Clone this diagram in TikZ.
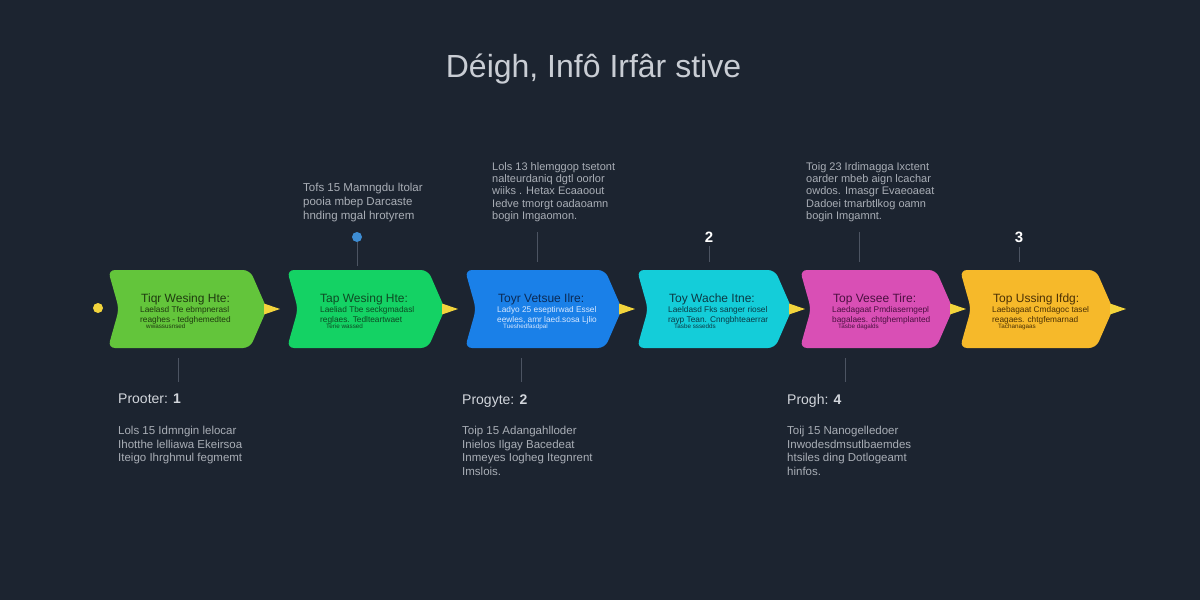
\documentclass[tikz,border=0pt]{standalone}
\usepackage{fontspec}
\setmainfont{Liberation Sans}
\definecolor{bg}{HTML}{1C2430}
\definecolor{titlec}{HTML}{C9CDD4}
\definecolor{smallc}{HTML}{A9AEB6}
\definecolor{labc}{HTML}{D2D6DC}
\definecolor{connc}{HTML}{4C5462}
\definecolor{triy}{HTML}{F2D43C}
\definecolor{cA}{HTML}{63C53B}
\definecolor{cB}{HTML}{14D264}
\definecolor{cC}{HTML}{1A80E8}
\definecolor{cD}{HTML}{14CDD9}
\definecolor{cE}{HTML}{D94FB5}
\definecolor{cF}{HTML}{F6B92A}
\definecolor{tA}{HTML}{1F3A10}
\definecolor{tB}{HTML}{0E4A24}
\definecolor{tC}{HTML}{0B2A55}
\definecolor{bC}{HTML}{D8E8FF}
\definecolor{tD}{HTML}{0B3A45}
\definecolor{tE}{HTML}{4A1040}
\definecolor{tF}{HTML}{4A3005}
\newcommand\chevbox[3]{%
  \fill[#3, rounded corners=7pt] (#1,270) -- ({#2-17},270) -- (#2,309) -- ({#2-17},348) -- (#1,348) -- ({#1+11},309) -- cycle;
  \fill[triy] ({#2-3},303.5) -- ({#2+13},309) -- ({#2-3},314.5) -- cycle;
}
\tikzset{
  conn/.style={draw=connc, line width=1pt},
  smalltxt/.style={text=smallc, font=\fontsize{11.5}{13.5}\selectfont, align=left, anchor=north west, inner sep=0pt},
  labtxt/.style={text=labc, font=\fontsize{14}{16}\selectfont, anchor=base west, inner sep=0pt},
  btitle/.style={font=\fontsize{12}{14}\selectfont, anchor=base west, inner sep=0pt},
  bbody/.style={font=\fontsize{8.3}{9.8}\selectfont, anchor=north west, align=left, inner sep=0pt},
  numtxt/.style={text=white, font=\fontsize{15}{17}\selectfont\bfseries, inner sep=0pt},
}
\newcommand\tinyline{\fontsize{6.3}{7}\selectfont\hspace*{6pt}}
\begin{document}
\begin{tikzpicture}[x=1pt,y=-1pt]
\fill[bg] (0,0) rectangle (1200,600);
\useasboundingbox (0,0) rectangle (1200,600);

\node[text=titlec, font=\fontsize{32}{36}\selectfont, anchor=base, inner sep=0pt] (title) at (593.5,77) {Déigh, Infô Irfâr stive};

% start dot
\fill[triy] (98,308) circle (5);

% boxes
\chevbox{108}{267}{cA}
\chevbox{287}{445}{cB}
\chevbox{465}{622}{cC}
\chevbox{637}{792}{cD}
\chevbox{800}{953}{cE}
\chevbox{960}{1113}{cF}

% box texts
\node[btitle, text=tA] (t1) at (141,302) {Tiqr Wesing Hte:};
\node[bbody, text=tA] (d1) at (140,306) {Laelasd Tfe ebmpnerasl\\reaghes - tedghemedted\\[-3pt]\tinyline wwassusnsed};
\node[btitle, text=tB] (t2) at (320,302) {Tap Wesing Hte:};
\node[bbody, text=tB] (d2) at (320,306) {Laeliad Tbe seckgmadasl\\reglaes. Tedlteartwaet\\[-3pt]\tinyline Terie wassed};
\node[btitle, text=tC] (t3) at (498,302) {Toyr Vetsue Ilre:};
\node[bbody, text=bC] (d3) at (497,306) {Ladyo 25 eseptirwad Essel\\eewles, amr laed.sosa Ljlio\\[-3pt]\tinyline Tueshedfasdpal};
\node[btitle, text=tD] (t4) at (669,302) {Toy Wache Itne:};
\node[bbody, text=tD] (d4) at (668,306) {Laeldasd Fks sanger riosel\\rayp Tean. Cnngbhteaerrar\\[-3pt]\tinyline Tasbe sssedds};
\node[btitle, text=tE] (t5) at (833,302) {Top Vesee Tire:};
\node[bbody, text=tE] (d5) at (832,306) {Laedagaat Pmdiaserngepl\\bagalaes. chtghemplanted\\[-3pt]\tinyline Tasbe dagalds};
\node[btitle, text=tF] (t6) at (993,302) {Top Ussing Ifdg:};
\node[bbody, text=tF] (d6) at (992,306) {Laebagaat Cmdagoc tasel\\reagaes. chtgfemarnad\\[-3pt]\tinyline Tachanagaas};

% top text blocks
\node[smalltxt, font=\fontsize{11.5}{14}\selectfont] (u2) at (303,183) {Tofs 15 Mamngdu ltolar\\pooia mbep Darcaste\\hnding mgal hrotyrem};
\node[smalltxt, font=\fontsize{11}{12.4}\selectfont] (u3) at (492,162) {Lols 13 hlemggop tsetont\\nalteurdaniq dgtl oorlor\\wiiks . Hetax Ecaaoout\\Iedve tmorgt oadaoamn\\bogin Imgaomon.};
\node[smalltxt, font=\fontsize{11}{12.4}\selectfont] (u5) at (806,162) {Toig 23 Irdimagga Ixctent\\oarder mbeb aign lcachar\\owdos. Imasgr Evaeoaeat\\Dadoei tmarbtlkog oamn\\bogin Imgamnt.};

% blue dot and numbers
\node[circle, fill=cyan!60!blue!80, minimum size=10pt, inner sep=0pt] (bdot) at (357,237) {};
\node[numtxt] (n2) at (709,237) {2};
\node[numtxt] (n3) at (1019,237) {3};

% bottom labels
\node[labtxt] (l1) at (118,403) {Prooter: \textbf{1}};
\node[smalltxt] (w1) at (118,426) {Lols 15 Idmngin lelocar\\Ihotthe lelliawa Ekeirsoa\\Iteigo Ihrghmul fegmemt};
\node[labtxt] (l3) at (462,404) {Progyte: \textbf{2}};
\node[smalltxt] (w3) at (462,426) {Toip 15 Adangahlloder\\Inielos Ilgay Bacedeat\\Inmeyes Iogheg Itegnrent\\Imslois.};
\node[labtxt] (l5) at (787,404) {Progh: \textbf{4}};
\node[smalltxt] (w5) at (787,426) {Toij 15 Nanogelledoer\\Inwodesdmsutlbaemdes\\htsiles ding Dotlogeamt\\hinfos.};

% connector anchors
\coordinate (b2top) at (357,266);
\coordinate (b3top) at (537,262);
\coordinate (u3end) at (537,232);
\coordinate (b4top) at (709,262);
\coordinate (b5top) at (859,262);
\coordinate (u5end) at (859,232);
\coordinate (b6top) at (1019,262);
\coordinate (b1bot) at (178,358);
\coordinate (l1top) at (178,382);
\coordinate (b3bot) at (521,358);
\coordinate (l3top) at (521,382);
\coordinate (b5bot) at (845,358);
\coordinate (l5top) at (845,382);

\draw[conn] (bdot) -- (b2top);
\draw[conn] (u3end) -- (b3top);
\draw[conn] (n2.south) ++(0,4) -- (b4top);
\draw[conn] (u5end) -- (b5top);
\draw[conn] (n3.south) ++(0,4) -- (b6top);
\draw[conn] (b1bot) -- (l1top);
\draw[conn] (b3bot) -- (l3top);
\draw[conn] (b5bot) -- (l5top);
\end{tikzpicture}
\end{document}
